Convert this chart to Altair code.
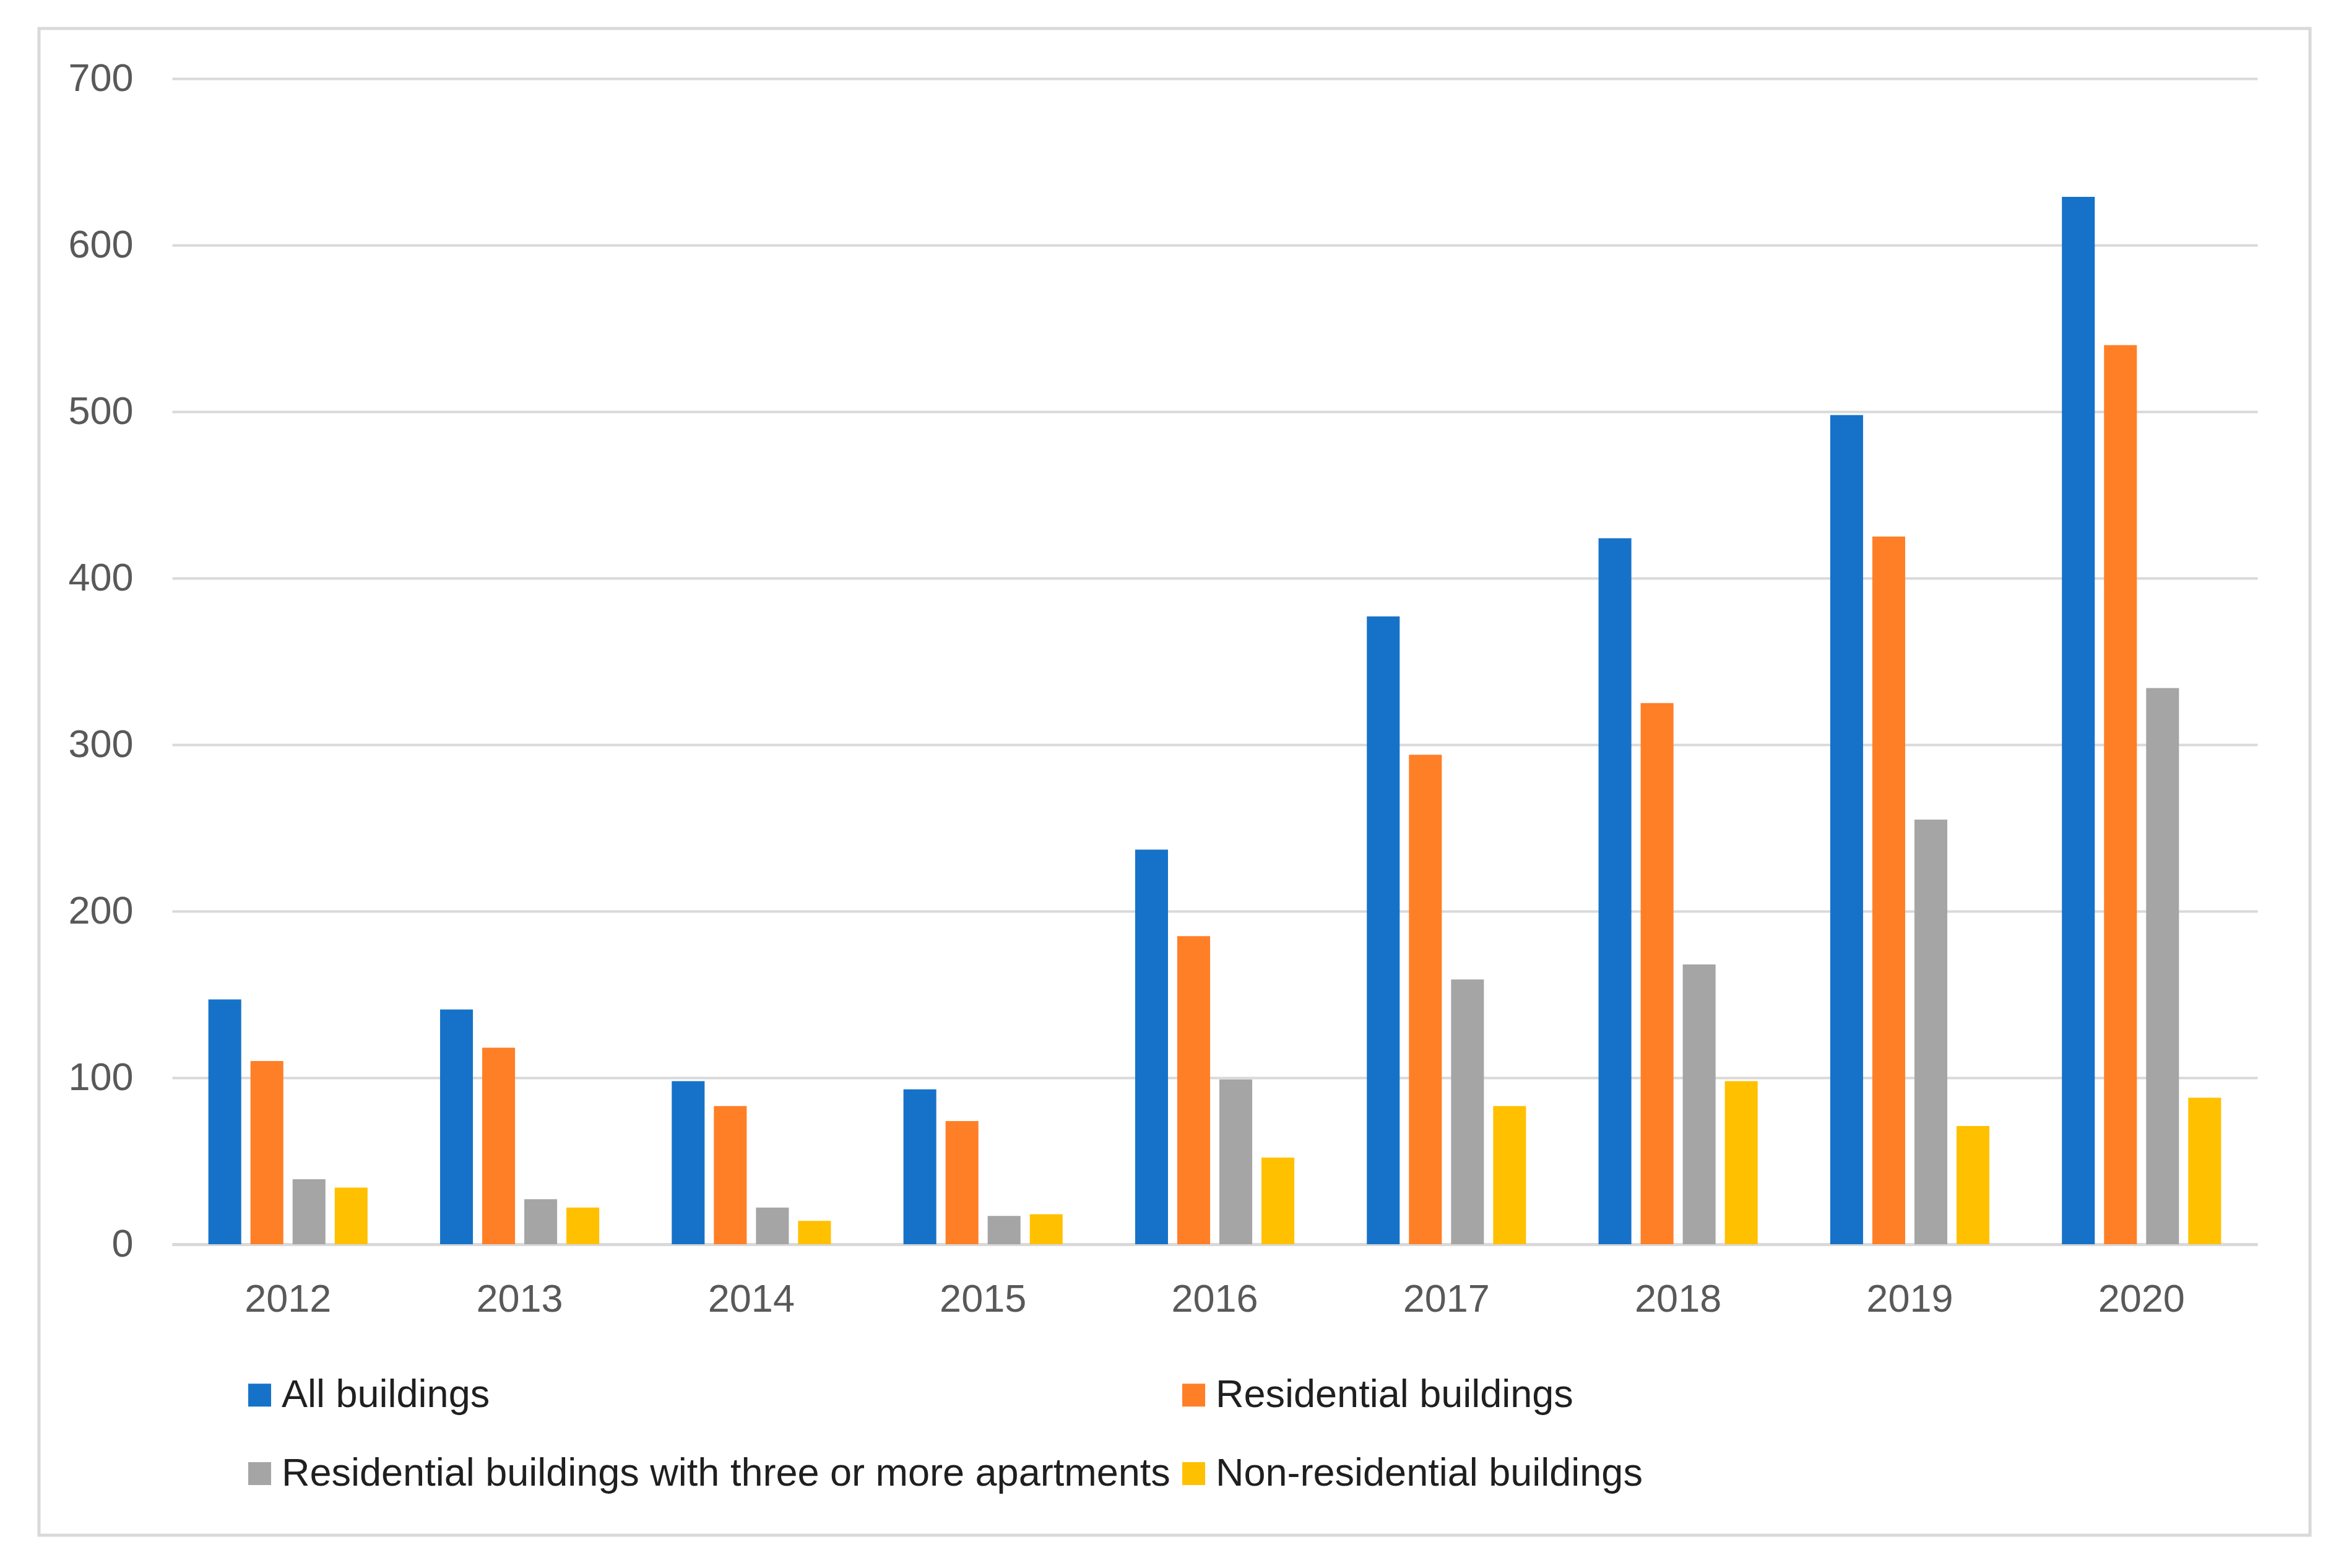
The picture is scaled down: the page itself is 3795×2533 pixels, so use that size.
import altair as alt
import pandas as pd

years = ["2012", "2013", "2014", "2015", "2016", "2017", "2018", "2019", "2020"]
series = [
    "All buildings",
    "Residential buildings",
    "Residential buildings with three or more apartments",
    "Non-residential buildings",
]
all_buildings = [147, 141, 98, 93, 237, 377, 424, 498, 629]
residential = [110, 118, 83, 74, 185, 294, 325, 425, 540]
three_plus = [39, 27, 22, 17, 99, 159, 168, 255, 334]
non_residential = [34, 22, 14, 18, 52, 83, 98, 71, 88]
colors = ["#1672C9", "#FF7F27", "#A5A5A5", "#FFC000"]
y_ticks = [0, 100, 200, 300, 400, 500, 600, 700]

rows = []
for name, vals in zip(series, [all_buildings, residential, three_plus, non_residential]):
    for yr, v in zip(years, vals):
        rows.append({"Year": yr, "Series": name, "Value": v})
df = pd.DataFrame(rows)

FONT = "Liberation Sans"

bars = alt.Chart(df).mark_bar().encode(
    x=alt.X(
        "Year:N",
        sort=years,
        scale=alt.Scale(paddingInner=0.313, paddingOuter=0.1567),
        axis=alt.Axis(
            title=None,
            labelAngle=0,
            labelFont=FONT,
            labelFontSize=63,
            labelColor="#595959",
            labelPadding=58,
            ticks=False,
            tickSize=0,
            domainColor="#D9D9D9",
            domainWidth=5,
            grid=False,
        ),
    ),
    xOffset=alt.XOffset(
        "Series:N",
        sort=series,
        scale=alt.Scale(paddingInner=0.22, paddingOuter=0),
    ),
    y=alt.Y(
        "Value:Q",
        scale=alt.Scale(domain=[0, 700], nice=False),
        axis=alt.Axis(
            title=None,
            values=y_ticks,
            labelFont=FONT,
            labelFontSize=63,
            labelColor="#595959",
            labelPadding=63,
            ticks=False,
            tickSize=0,
            domain=False,
            grid=True,
            gridColor="#D9D9D9",
            gridWidth=4,
        ),
    ),
    color=alt.Color(
        "Series:N",
        scale=alt.Scale(domain=series, range=colors),
        legend=alt.Legend(
            title=None,
            orient="none",
            legendX=110,
            legendY=2095,
            direction="horizontal",
            columns=2,
            symbolType="square",
            symbolSize=1369,
            symbolStrokeWidth=0,
            symbolOpacity=1,
            labelFont=FONT,
            labelFontSize=63,
            labelColor="#1F1F1F",
            labelLimit=3000,
            labelOffset=4,
            rowPadding=63,
            columnPadding=6,
            padding=0,
        ),
    ),
)

frame = alt.Chart(pd.DataFrame({"k": [0]})).mark_rect(
    filled=False, stroke="#D9D9D9", strokeWidth=5
).encode(
    x=alt.value(-215), x2=alt.value(3454), y=alt.value(-81), y2=alt.value(2353)
)

chart = alt.layer(frame, bars).properties(
    width=3369,
    height=1883,
    autosize=alt.AutoSizeParams(type="none"),
    padding={"left": 270, "top": 119, "right": 120, "bottom": 480},
).configure_view(stroke="transparent")

chart.save("out.html", embed_options={"renderer": "svg", "actions": False})
